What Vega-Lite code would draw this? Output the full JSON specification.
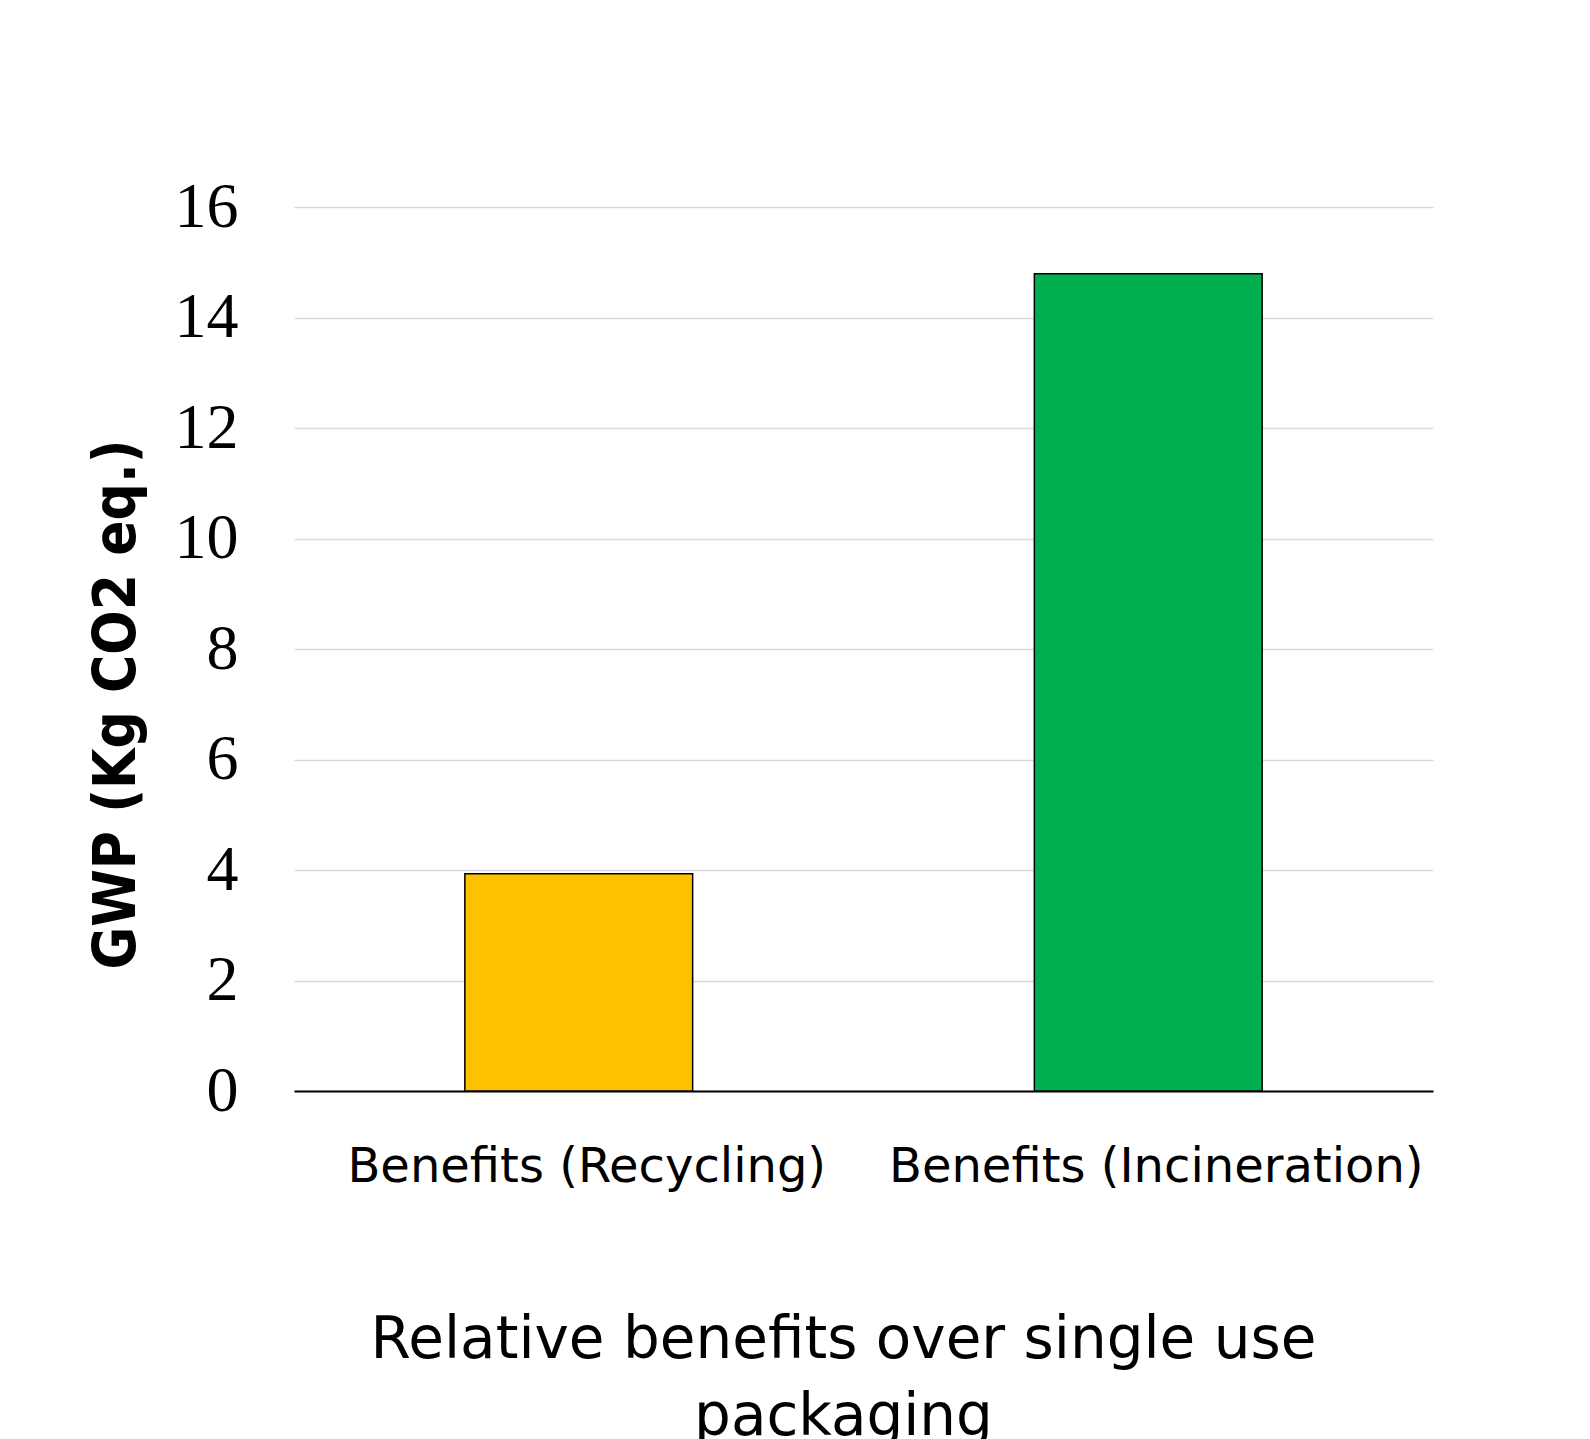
{
  "$schema": "https://vega.github.io/schema/vega-lite/v6.json",
  "width": 1139,
  "height": 884,
  "autosize": {"type": "none"},
  "padding": {"left": 294, "top": 207, "right": 157, "bottom": 348},
  "background": "#ffffff",
  "config": {"view": {"stroke": null}},
  "data": {
    "values": [
      {"category": "Benefits (Recycling)", "gwp": 3.93},
      {"category": "Benefits (Incineration)", "gwp": 14.79}
    ]
  },
  "mark": {"type": "bar", "stroke": "#000000", "strokeWidth": 1.5},
  "encoding": {
    "x": {
      "field": "category",
      "type": "nominal",
      "sort": null,
      "scale": {"paddingInner": 0.6, "paddingOuter": 0.3},
      "axis": {
        "title": ["Relative benefits over single use", "packaging"],
        "titleFont": "DejaVu Sans",
        "titleFontSize": 58,
        "titleFontWeight": "normal",
        "titleColor": "#000000",
        "titleX": 549,
        "titleY": 266,
        "titleAlign": "center",
        "titleAnchor": null,
        "titleBaseline": "alphabetic",
        "titleLineHeight": 77,
        "labelFont": "DejaVu Sans",
        "labelFontSize": 48,
        "labelColor": "#000000",
        "labelAngle": 0,
        "labelBaseline": "alphabetic",
        "labelPadding": 90,
        "labelOffset": 8,
        "labelLimit": 0,
        "ticks": false,
        "domain": true,
        "domainColor": "#000000",
        "domainWidth": 2,
        "grid": false
      }
    },
    "y": {
      "field": "gwp",
      "type": "quantitative",
      "scale": {"domain": [0, 16], "nice": false},
      "axis": {
        "title": "GWP (Kg CO2 eq.)",
        "titleFont": "DejaVu Sans Condensed",
        "titleFontSize": 58,
        "titleFontWeight": "bold",
        "titleColor": "#000000",
        "titleAngle": -90,
        "titleX": -160,
        "titleY": 497,
        "titleAlign": "center",
        "titleBaseline": "alphabetic",
        "values": [0, 2, 4, 6, 8, 10, 12, 14, 16],
        "labelFont": "Liberation Serif",
        "labelFontSize": 64,
        "labelColor": "#000000",
        "labelPadding": 56,
        "labelBaseline": "middle",
        "ticks": false,
        "domain": false,
        "grid": true,
        "gridColor": "#d9d9d9",
        "gridWidth": 1.5
      }
    },
    "color": {
      "field": "category",
      "type": "nominal",
      "scale": {
        "domain": ["Benefits (Recycling)", "Benefits (Incineration)"],
        "range": ["#FFC000", "#00B050"]
      },
      "legend": null
    }
  }
}
